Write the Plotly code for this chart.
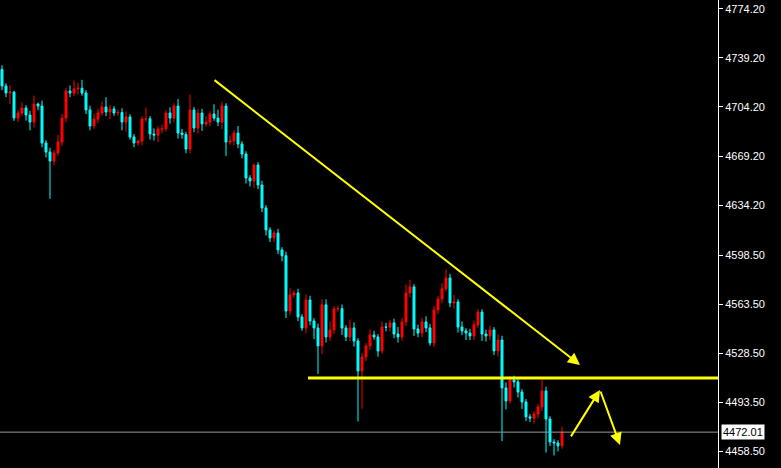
import plotly.graph_objects as go

closes = [4719.2,4714.2,4714.8,4696.3,4699.9,4703.5,4698.5,4693.5,4706.3,4704.9,
4678.5,4672.1,4665.6,4671.4,4679.2,4696.3,4715.6,4714.2,4717.1,4717.6,
4714.2,4702.1,4690.6,4695.6,4699.9,4704.2,4700.6,4702.8,4699.9,4700.3,
4693.5,4697.1,4682.8,4678.5,4679.9,4695.6,4695.8,4684.9,4684.2,4688.5,
4688.7,4699.9,4696.3,4704.9,4685.6,4684.5,4674.2,4702.1,4689.2,4699.9,
4692.1,4693.5,4699.2,4696.3,4693.5,4704.9,4679.2,4679.9,4685.6,4677.8,
4670.6,4653.5,4651.4,4662.8,4648.5,4632.1,4616.4,4610.7,4614.2,4602.1,
4598.0,4558.5,4570.0,4571.4,4554.3,4546.4,4566.4,4551.4,4546.4,4533.6,
4562.9,4540.0,4545.0,4560.0,4560.2,4546.4,4540.0,4546.4,4537.1,4515.7,
4525.7,4533.6,4541.4,4540.0,4530.0,4547.1,4546.9,4550.0,4542.1,4540.0,
4550.7,4571.4,4575.7,4545.7,4542.8,4550.7,4546.4,4535.7,4559.3,4567.1,
4574.3,4582.1,4564.3,4565.0,4547.1,4544.3,4542.8,4540.7,4548.6,4557.8,
4542.1,4540.7,4545.0,4530.0,4537.8,4503.6,4494.3,4509.3,4507.9,4500.7,
4493.6,4482.9,4482.1,4485.0,4490.0,4501.4,4481.4,4465.0,4464.3,4462.2,
4472.0]
first_open = 4731.0
upper_wick = [3,2,5,1,2,4,2,3,6,1, 4,2,3,2,5,3,2,4,6,4, 6,2,3,4,3,4,7,3,2,2,
3,4,2,2,1,2,8,2,4,2, 3,2,4,2,5,3,2,11,2,3, 3,4,2,7,6,3,2,4,2,5,
2,2,2,1,2,3,2,2,2,3, 2,3,5,2,3,2,4,3,2,3, 4,4,6,2,2,3,2,6,4,2,
3,2,4,3,2,4,3,2,3,5, 3,6,5,2,3,3,4,3,3,2, 4,6,3,5,2,4,2,3,3,2,
2,3,3,2,4,3,4,3,3,2, 2,2,2,2,2,8,3,2,2,2, 4]
lower_wick = [3,3,8,2,3,2,4,6,4,3, 3,4,27,3,2,3,3,3,2,4, 2,3,3,2,3,2,3,5,2,2,
6,7,2,3,2,3,2,4,4,5, 3,2,4,3,4,3,3,3,3,4, 5,2,3,2,3,5,10,2,3,3,
3,4,4,5,3,3,4,3,3,3, 4,5,3,2,3,2,4,3,8,20, 6,4,3,3,2,5,3,3,4,36,
27,3,3,2,4,2,3,3,3,4, 3,3,3,5,3,3,3,2,3,3, 3,2,3,4,4,3,5,3,3,2,
5,4,3,3,4,38,6,2,4,4, 5,3,3,4,3,3,24,3,9,4, 2]
tick_vals = [4774.2,4739.2,4704.2,4669.2,4634.2,4598.5,4563.5,4528.5,4493.5,4458.5]
last_price = 4472.01
support = 4510.7

n = len(closes)
opens = [first_open] + closes[:-1]
highs = [max(o, c) + u for o, c, u in zip(opens, closes, upper_wick)]
lows = [min(o, c) - l for o, c, l in zip(opens, closes, lower_wick)]
xs = list(range(n))

fig = go.Figure(go.Candlestick(
    x=xs, open=opens, high=highs, low=lows, close=closes,
    increasing=dict(line=dict(color="#ff0000", width=1), fillcolor="#ff0000"),
    decreasing=dict(line=dict(color="#00ffff", width=1), fillcolor="#00ffff"),
    whiskerwidth=0, showlegend=False, hoverinfo="skip"))

yel = "#ffff00"
fig.add_shape(type="line", x0=-0.5, x1=179, y0=last_price, y1=last_price,
              line=dict(color="#9a9a9a", width=1))
fig.add_shape(type="line", x0=76.5, x1=179, y0=support, y1=support,
              line=dict(color=yel, width=3))
arrows = [((52.75, 4724.2), (144.5, 4520.0)),
          ((142.0, 4467.9), (149.5, 4502.1)),
          ((149.5, 4502.1), (154.5, 4462.9))]
for (x0, y0), (x1, y1) in arrows:
    fig.add_annotation(x=x1, y=y1, ax=x0, ay=y0, xref="x", yref="y", axref="x", ayref="y",
                       showarrow=True, arrowhead=2, arrowsize=1.2, arrowwidth=2,
                       arrowcolor=yel, text="")

fig.add_annotation(x=1, xref="paper", xanchor="left", y=last_price, yref="y",
                   text="4472.01", showarrow=False, bgcolor="#ffffff",
                   font=dict(color="#000000", size=11, family="Liberation Sans"),
                   xshift=3, borderpad=1)

fig.update_layout(
    width=781, height=468, margin=dict(l=0, r=63, t=0, b=0),
    paper_bgcolor="#000000", plot_bgcolor="#000000",
    xaxis=dict(range=[-0.5, 179], visible=False, rangeslider=dict(visible=False),
               showgrid=False),
    yaxis=dict(range=[4446.4, 4780.6], side="right", showgrid=False, zeroline=False,
               tickvals=tick_vals, ticktext=[f"{v:.2f}" for v in tick_vals],
               ticks="outside", ticklen=4, tickcolor="#ffffff",
               showline=True, linecolor="#ffffff", linewidth=1,
               tickfont=dict(color="#ffffff", size=11, family="Liberation Sans")),
)
fig.write_html("out.html", config={"displayModeBar": False},
               post_script="document.body.style.margin='0';document.body.style.background='#000';")
